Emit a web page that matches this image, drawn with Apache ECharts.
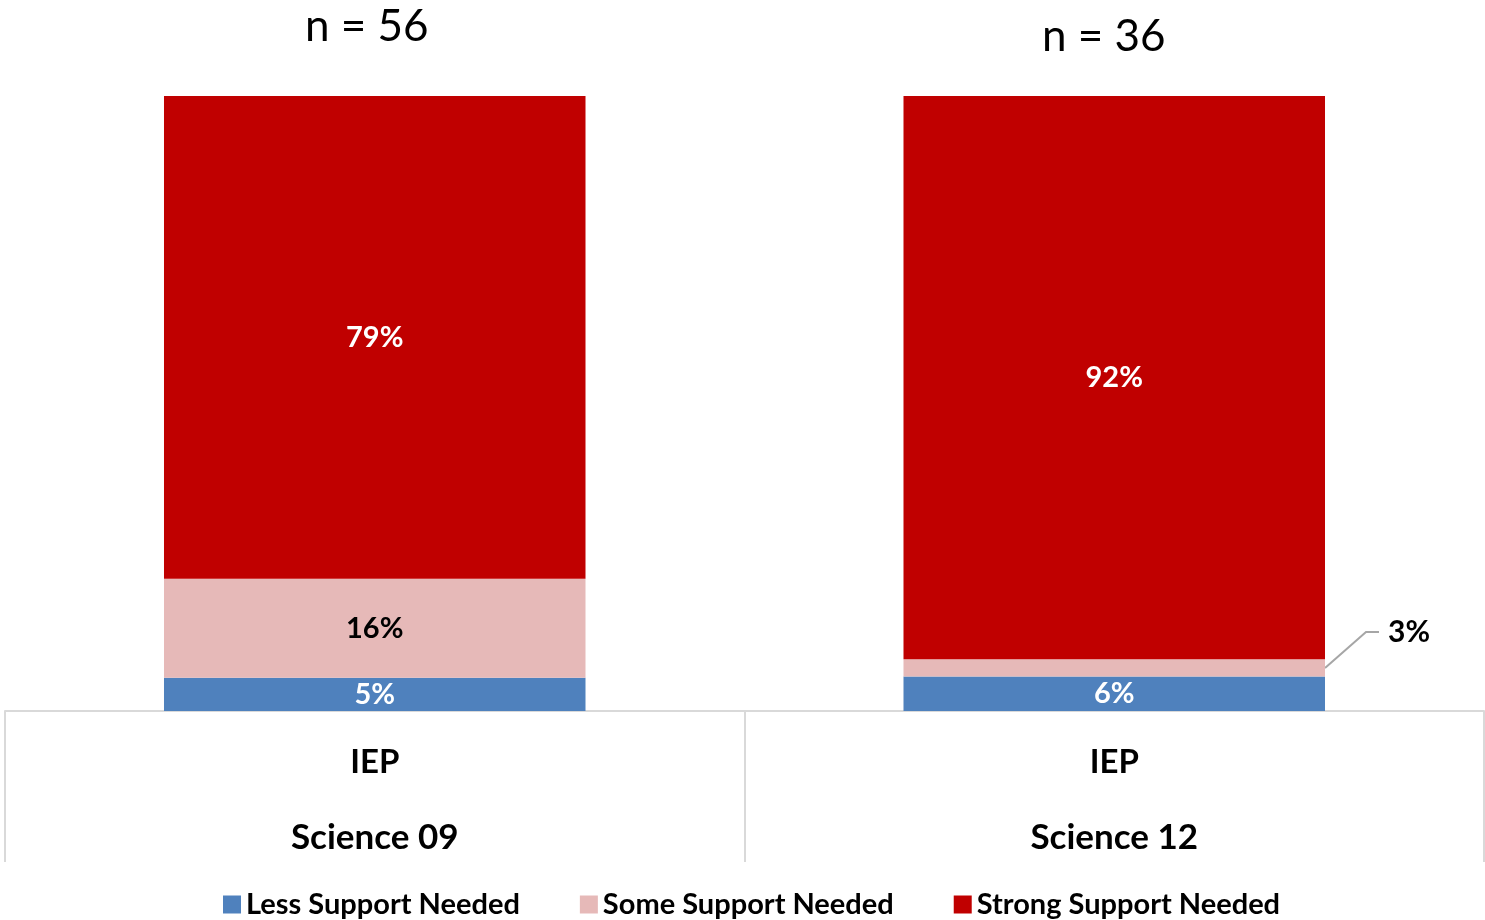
<!DOCTYPE html>
<html>
<head>
<meta charset="utf-8">
<script src="https://cdn.jsdelivr.net/npm/echarts@6/dist/echarts.min.js"></script>
<style>
html,body{margin:0;padding:0;background:#fff;}
#chart{width:1485px;height:920px;}
</style>
</head>
<body>
<div id="chart"></div>
<script>
var groups = ['IEP', 'IEP'];
var categories = ['Science 09', 'Science 12'];
var nLabels = ['n = 56', 'n = 36'];
var seriesNames = ['Less Support Needed', 'Some Support Needed', 'Strong Support Needed'];
var lessSupport = [5.4, 5.6];
var someSupport = [16.1, 2.8];
var strongSupport = [78.5, 91.6];
var colors = ['#4F81BD', '#E6B9B8', '#C00000'];

var FONT = 'Lato';
var BAR_RATIO = 0.57;
var chart = echarts.init(document.getElementById('chart'));

function fmt(p) { return Math.round(p.value) + '%'; }

var labelBase = { fontFamily: FONT, fontWeight: 'bold', fontSize: 29 };

var someData = someSupport.map(function (v, i) {
  if (i === 1) {
    return { value: v, label: { position: 'right', color: '#000', fontFamily: FONT, fontWeight: 'bold', fontSize: 30 } };
  }
  return v;
});

var titleGraphics = [
  { type: 'text', left: 305, top: 5, style: { text: nLabels[0], font: '44px ' + FONT, fill: '#000' } },
  { type: 'text', left: 1042, top: 15, style: { text: nLabels[1], font: '44px ' + FONT, fill: '#000' } }
];

var option = {
  animation: false,
  backgroundColor: '#fff',
  textStyle: { fontFamily: FONT },
  grid: { left: 5, right: 1, top: 96, bottom: 209, containLabel: false },
  legend: {
    data: seriesNames,
    top: 885,
    left: 218,
    itemWidth: 18,
    itemHeight: 18,
    itemGap: 60,
    icon: 'rect',
    textStyle: { fontFamily: FONT, fontWeight: 'bold', fontSize: 29, color: '#000' }
  },
  xAxis: {
    type: 'category',
    data: categories,
    axisLine: { lineStyle: { color: '#D9D9D9', width: 2 } },
    axisTick: { show: true, length: 151, lineStyle: { color: '#D9D9D9', width: 2 } },
    axisLabel: {
      margin: 14,
      formatter: function (v, i) { return '{a|' + groups[i] + '}\n{b|' + v + '}'; },
      rich: {
        a: { fontFamily: FONT, fontWeight: 'bold', fontSize: 33, color: '#000', lineHeight: 75 },
        b: { fontFamily: FONT, fontWeight: 'bold', fontSize: 35, color: '#000', lineHeight: 75 }
      }
    }
  },
  yAxis: { type: 'value', min: 0, max: 100, show: false, splitLine: { show: false } },
  graphic: titleGraphics,
  series: [
    {
      name: seriesNames[0], type: 'bar', stack: 's', barWidth: (BAR_RATIO * 100) + '%',
      data: lessSupport,
      itemStyle: { color: colors[0] },
      label: Object.assign({ show: true, position: 'inside', formatter: fmt, color: '#fff' }, labelBase)
    },
    {
      name: seriesNames[1], type: 'bar', stack: 's',
      data: someData,
      itemStyle: { color: colors[1] },
      label: Object.assign({ show: true, position: 'inside', formatter: fmt, color: '#000' }, labelBase),
      labelLine: { show: false },
      labelLayout: function (p) {
        if (p.dataIndex === 1) { return { dx: 58, dy: -36 }; }
        return {};
      }
    },
    {
      name: seriesNames[2], type: 'bar', stack: 's',
      data: strongSupport,
      itemStyle: { color: colors[2] },
      label: Object.assign({ show: true, position: 'inside', formatter: fmt, color: '#fff' }, labelBase)
    }
  ]
};
chart.setOption(option);

// leader line for the small "Some Support" segment of the second bar
(function () {
  var i = 1;
  var c0 = chart.convertToPixel({ gridIndex: 0 }, [0, 0]);
  var c1 = chart.convertToPixel({ gridIndex: 0 }, [1, 0]);
  var catW = c1[0] - c0[0];
  var xr = c1[0] + catW * BAR_RATIO / 2;
  var mid = chart.convertToPixel({ gridIndex: 0 }, [i, lessSupport[i] + someSupport[i] / 2]);
  var ym = mid[1];
  chart.setOption({
    graphic: titleGraphics.concat([
      {
        type: 'polyline', silent: true,
        shape: { points: [[xr, ym], [xr + 41, ym - 36], [xr + 54, ym - 36]] },
        style: { stroke: '#A6A6A6', lineWidth: 2, fill: null }
      }
    ])
  });
})();
</script>
</body>
</html>
